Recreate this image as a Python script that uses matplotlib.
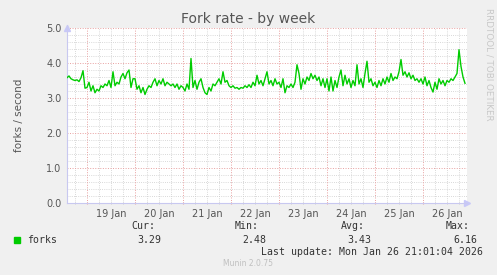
import numpy as np
import matplotlib
matplotlib.use('Agg')
import matplotlib.pyplot as plt
import matplotlib.transforms as mtrans

# ---- data (hourly, starting Jan 18 14:00) ----
start_hour = -10  # hours relative to Jan 19 00:00
seg_jan18 = [3.58, 3.63, 3.55, 3.52, 3.5, 3.52, 3.47, 3.58, 3.78, 3.28]
seg_jan19 = [3.3, 3.45, 3.2, 3.35, 3.15, 3.25, 3.2, 3.35, 3.3, 3.4, 3.35, 3.5,
             3.3, 3.75, 3.35, 3.45, 3.4, 3.6, 3.7, 3.55, 3.72, 3.8, 3.3, 3.55]
seg_jan20 = [3.55, 3.25, 3.35, 3.15, 3.3, 3.1, 3.25, 3.35, 3.3, 3.45, 3.55, 3.35,
             3.5, 3.4, 3.55, 3.35, 3.45, 3.4, 3.35, 3.4, 3.3, 3.4, 3.25, 3.35]
seg_jan21 = [3.3, 3.2, 3.4, 3.25, 4.13, 3.3, 3.5, 3.25, 3.45, 3.55, 3.3, 3.15,
             3.1, 3.3, 3.2, 3.4, 3.35, 3.45, 3.55, 3.4, 3.75, 3.45, 3.5, 3.35]
seg_jan22 = [3.3, 3.35, 3.28, 3.3, 3.25, 3.3, 3.28, 3.35, 3.3, 3.38, 3.3, 3.45,
             3.35, 3.65, 3.4, 3.5, 3.35, 3.55, 3.75, 3.4, 3.5, 3.35, 3.55, 3.4]
seg_jan23 = [3.45, 3.3, 3.55, 3.15, 3.35, 3.3, 3.4, 3.3, 3.45, 3.95, 3.7, 3.25,
             3.55, 3.4, 3.6, 3.5, 3.7, 3.55, 3.65, 3.5, 3.6, 3.35, 3.55, 3.3]
seg_jan24 = [3.55, 3.2, 3.6, 3.2, 3.5, 3.3, 3.6, 3.8, 3.35, 3.65, 3.4, 3.55,
             3.3, 3.5, 3.35, 3.95, 3.4, 3.55, 3.3, 3.7, 4.05, 3.45, 3.55, 3.35]
seg_jan25 = [3.45, 3.3, 3.5, 3.35, 3.55, 3.4, 3.6, 3.45, 3.7, 3.5, 3.6, 3.55,
             3.75, 4.1, 3.65, 3.75, 3.6, 3.72, 3.55, 3.65, 3.5, 3.55, 3.45, 3.55]
seg_jan26 = [3.4, 3.6, 3.35, 3.5, 3.3, 3.17, 3.45, 3.25, 3.55, 3.4, 3.5, 3.35,
             3.5, 3.45, 3.55, 3.5, 3.6, 3.7, 4.38, 3.9, 3.6, 3.42]
forks = (seg_jan18 + seg_jan19 + seg_jan20 + seg_jan21 + seg_jan22 +
         seg_jan23 + seg_jan24 + seg_jan25 + seg_jan26)

day_labels = ["19 Jan", "20 Jan", "21 Jan", "22 Jan", "23 Jan", "24 Jan", "25 Jan", "26 Jan"]
y_ticks = [0.0, 1.0, 2.0, 3.0, 4.0, 5.0]
stats_names = ["Cur:", "Min:", "Avg:", "Max:"]
stats_vals = ["3.29", "2.48", "3.43", "6.16"]

# ---- figure ----
W, H = 497, 275
fig = plt.figure(figsize=(W / 100, H / 100), dpi=100, facecolor='#F0F0F0')
ax = fig.add_axes([67 / W, 72 / H, 400 / W, 175 / H])
ax.set_facecolor('white')

x = (np.arange(len(forks)) + start_hour) / 24.0
xmin, xmax = -20 / 48, 380 / 48
ax.set_xlim(xmin, xmax)
ax.set_ylim(0, 5)

# grid
minor_col = '#CCCCCC'
major_col = '#E8A0A0'
dash = (0, (1, 1.6))
for v in np.arange(-0.25, 8.0, 0.25):
    if xmin < v < xmax and abs(v - round(v)) > 1e-6:
        ax.axvline(v, color=minor_col, lw=0.6, ls=dash, zorder=1)
for v in np.arange(0.2, 5.0, 0.2):
    if abs(v - round(v)) > 1e-6:
        ax.axhline(v, color=minor_col, lw=0.6, ls=dash, zorder=1)
for d in range(0, 8):
    ax.axvline(d, color=major_col, lw=0.7, ls=dash, zorder=1.5)
for v in y_ticks[1:]:
    ax.axhline(v, color=major_col, lw=0.7, ls=dash, zorder=1.5)

ax.plot(x, forks, color='#00CC00', lw=1.0, zorder=3)

# spines
for s in ['top', 'right']:
    ax.spines[s].set_visible(False)
for s in ['left', 'bottom']:
    ax.spines[s].set_color('#C8C8F0')
    ax.spines[s].set_linewidth(0.8)
ax.plot([1.0], [0], marker='>', color='#C8C8F8', ms=4, transform=ax.transAxes, clip_on=False)
ax.plot([0], [1.0], marker='^', color='#C8C8F8', ms=4, transform=ax.transAxes, clip_on=False)
ax.plot([0, 0], [1.0, 1.02], color='#C8C8F0', lw=0.8, transform=ax.transAxes, clip_on=False)

# ticks
ax.set_xticks(range(0, 8))
ax.set_xticklabels([])
ax.tick_params(axis='x', which='major', length=2, color='#E8A0A0', direction='inout')
ax.set_xticks([v for v in np.arange(-0.25, 8.0, 0.25) if xmin < v < xmax and abs(v - round(v)) > 1e-6], minor=True)
ax.tick_params(axis='x', which='minor', length=1.5, color='#C8C8C8', direction='inout')
ax.set_yticks(y_ticks)
ax.set_yticklabels([f"{v:.1f}" for v in y_ticks], fontsize=7, color='#555555')
ax.tick_params(axis='y', which='major', length=0, pad=4)
trans = mtrans.blended_transform_factory(ax.transData, ax.transAxes)
for i, lab in enumerate(day_labels):
    ax.text(i + 0.5, -0.035, lab, transform=trans, ha='center', va='top',
            fontsize=7, color='#555555')

ax.set_ylabel('forks / second', fontsize=7.5, color='#555555', labelpad=16)

# title & side text
fig.text(248 / W, 1 - 19 / H, 'Fork rate - by week', ha='center', va='center',
         fontsize=10, color='#555555')
fig.text(489 / W, 1 - 64 / H, 'RRDTOOL / TOBI OETIKER', rotation=270, ha='center',
         va='center', fontsize=6.3, color='#C8C8C8')

# legend
mono = 'DejaVu Sans Mono'
fig.patches.append(plt.Rectangle((14 / W, 1 - 243 / H), 6 / W, 6 / H,
                                 transform=fig.transFigure, color='#00CC00'))
fig.text(27 / W, 1 - 240 / H, 'forks', ha='left', va='center', fontsize=7.1,
         family=mono, color='#333333')
name_right = [155, 259, 365, 470]
val_right = [161, 266, 371, 477]
for nm, vv, nr, vr in zip(stats_names, stats_vals, name_right, val_right):
    fig.text(nr / W, 1 - 226 / H, nm, ha='right', va='center', fontsize=7.1,
             family=mono, color='#333333')
    fig.text(vr / W, 1 - 240 / H, vv, ha='right', va='center', fontsize=7.1,
             family=mono, color='#333333')
fig.text(483 / W, 1 - 252 / H, 'Last update: Mon Jan 26 21:01:04 2026', ha='right',
         va='center', fontsize=7.1, family=mono, color='#333333')
fig.text(248 / W, 1 - 264 / H, 'Munin 2.0.75', ha='center', va='center',
         fontsize=5.5, color='#C0C0C0')

fig.savefig('out.png', dpi=100, facecolor=fig.get_facecolor())
